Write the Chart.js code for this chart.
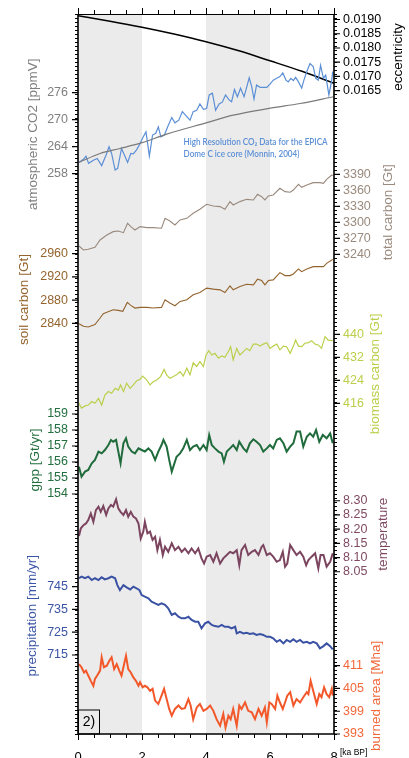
<!DOCTYPE html>
<html>
<head>
<meta charset="utf-8">
<script src="https://cdn.jsdelivr.net/npm/chart.js@4.4.1/dist/chart.umd.min.js"></script>
<style>
	html, body { margin: 0; padding: 0; background: #fff; }
	#wrap { width: 409px; height: 758px; }
</style>
</head>
<body>
<div id="wrap"><canvas id="chart" width="409" height="758"></canvas></div>
<script>
// x axis (ka BP) and shaded periods
const ageTicks = [0, 2, 4, 6, 8];
const shadedSpans = [[0, 2], [4, 6]];

// eccentricity
const eccAge = [0, 1, 2, 3, 4, 5, 6, 7, 8];
const eccVal = [0.01913, 0.01894, 0.01873, 0.01849, 0.01822, 0.01791, 0.01755, 0.01718, 0.01676];
const eccTicks = [0.019, 0.0185, 0.018, 0.0175, 0.017, 0.0165];

// atmospheric CO2, model (grey) and EPICA Dome C data (blue)
const co2ModelAge = [0.03, 0.69, 1.31, 2.0, 2.77, 4.0, 4.85, 5.97, 6.94, 7.98];
const co2ModelVal = [260.5, 262.5, 263.6, 264.9, 266.8, 269.3, 271.0, 272.5, 273.6, 275.1];
const co2DataAge = [0.03, 0.17, 0.25, 0.33, 0.48, 0.6, 0.74, 0.875, 0.97, 1.05, 1.16, 1.24, 1.36, 1.47, 1.55, 1.65, 1.73, 1.83, 1.94, 2.04,
	2.125, 2.23, 2.33, 2.43, 2.51, 2.59, 2.7, 2.8, 2.93, 3.03, 3.15, 3.26, 3.36, 3.5, 3.6, 3.71, 3.81, 3.92, 4.02, 4.1,
	4.2, 4.3, 4.41, 4.51, 4.61, 4.72, 4.8, 4.89, 4.98, 5.08, 5.19, 5.27, 5.35, 5.43, 5.5, 5.58, 5.69, 5.79, 5.9, 6.0,
	6.1, 6.21, 6.31, 6.4, 6.5, 6.57, 6.65, 6.73, 6.8, 6.89, 6.99, 7.06, 7.15, 7.25, 7.35, 7.43, 7.51, 7.58, 7.67, 7.74,
	7.84, 7.93, 7.96];
const co2DataVal = [260.5, 261.2, 261.9, 260.3, 261.0, 261.4, 259.8, 262.1, 264.0, 262.5, 258.8, 259.2, 263.6, 261.8, 260.5, 262.5, 262.4, 263.3, 264.7, 266.2,
	267.3, 261.9, 266.6, 267.0, 268.4, 266.2, 266.6, 268.4, 270.5, 269.3, 269.9, 271.8, 271.0, 269.9, 271.8, 272.1, 273.5, 272.3, 272.5, 275.5,
	275.9, 272.1, 273.5, 273.9, 275.5, 274.4, 274.0, 276.7, 275.1, 277.0, 275.1, 277.2, 279.3, 277.3, 274.6, 277.7, 277.2, 277.2, 277.2, 277.9,
	278.8, 279.2, 279.6, 280.4, 278.8, 278.4, 279.2, 278.7, 279.4, 278.4, 277.0, 278.8, 280.7, 282.5, 281.8, 279.2, 278.8, 282.1, 279.2, 279.9,
	275.5, 278.8, 280.7];
const co2Ticks = [258, 264, 270, 276];

// total carbon
const totalAge = [0.03, 0.17, 0.32, 0.53, 0.69, 0.9, 1.1, 1.26, 1.42, 1.55, 1.65, 1.78, 1.94, 2.15, 2.35, 2.61, 2.72, 2.87, 3.03, 3.19,
	3.4, 3.6, 3.81, 4.02, 4.23, 4.44, 4.59, 4.75, 4.85, 5.06, 5.27, 5.48, 5.61, 5.74, 5.84, 5.95, 6.1, 6.31, 6.47, 6.63,
	6.73, 6.89, 6.99, 7.15, 7.35, 7.56, 7.67, 7.77, 7.93, 7.96];
const totalVal = [3255.6, 3248.1, 3249.4, 3253.1, 3266.9, 3276.3, 3282.5, 3283.8, 3280.6, 3298.1, 3291.9, 3285.6, 3291.9, 3290, 3290, 3288.8, 3307.5, 3302.5, 3295, 3304.4,
	3307.5, 3316.9, 3324.4, 3333.8, 3330.6, 3329.4, 3324.4, 3338.8, 3332.5, 3338.8, 3343.1, 3341.9, 3352.5, 3348.1, 3341.9, 3349.4, 3351.3, 3363.8, 3357.5, 3356.3,
	3360.6, 3371.3, 3365.6, 3370, 3374.4, 3374.4, 3373.1, 3380.6, 3388.8, 3387.5];
const totalTicks = [3240, 3270, 3300, 3330, 3360, 3390];

// soil carbon
const soilAge = [0.03, 0.17, 0.32, 0.53, 0.69, 0.79, 0.9, 1.1, 1.26, 1.4, 1.54, 1.65, 1.78, 1.94, 2.15, 2.35, 2.61, 2.72, 2.87, 3.03,
	3.19, 3.4, 3.6, 3.81, 4.02, 4.23, 4.44, 4.59, 4.75, 4.85, 5.06, 5.27, 5.48, 5.61, 5.74, 5.84, 5.95, 6.1, 6.31, 6.47,
	6.63, 6.73, 6.89, 6.99, 7.15, 7.35, 7.56, 7.67, 7.77, 7.93, 7.96];
const soilVal = [2839.4, 2834.9, 2833.7, 2837.7, 2849.1, 2856.6, 2858.9, 2863.4, 2862.3, 2860.6, 2876, 2870.9, 2866.3, 2867.4, 2867.4, 2866.3, 2867.4, 2880.6, 2874.9, 2870.3,
	2877.7, 2880.6, 2889.1, 2893.1, 2900.6, 2898.9, 2897.7, 2893.1, 2904.6, 2897.7, 2903.4, 2907.4, 2906.3, 2916, 2913.7, 2906.3, 2913.7, 2914.9, 2927.4, 2922.3,
	2922.3, 2925.1, 2933.7, 2929.1, 2933.7, 2937.7, 2937.7, 2937.7, 2943.4, 2949.1, 2950.3];
const soilTicks = [2840, 2880, 2920, 2960];

// biomass carbon
const biomassAge = [0.03, 0.11, 0.22, 0.32, 0.43, 0.53, 0.64, 0.74, 0.84, 0.95, 1.05, 1.16, 1.26, 1.33, 1.42, 1.52, 1.63, 1.73, 1.83, 1.94,
	2.02, 2.15, 2.25, 2.35, 2.46, 2.58, 2.69, 2.77, 2.87, 2.98, 3.08, 3.19, 3.29, 3.4, 3.5, 3.6, 3.71, 3.81, 3.92, 4.0,
	4.09, 4.18, 4.28, 4.39, 4.49, 4.59, 4.7, 4.77, 4.85, 4.96, 5.06, 5.17, 5.27, 5.37, 5.48, 5.58, 5.69, 5.79, 5.9, 6.0,
	6.1, 6.21, 6.31, 6.42, 6.52, 6.63, 6.73, 6.8, 6.89, 6.99, 7.09, 7.2, 7.3, 7.41, 7.51, 7.61, 7.72, 7.82, 7.96];
const biomassVal = [416.0, 414.3, 415.1, 415.4, 416.6, 416.0, 417.7, 415.4, 418.9, 420.1, 419.5, 421.2, 420.6, 422.4, 420.1, 423.0, 421.2, 422.4, 423.8, 424.4,
	425.5, 424.1, 422.4, 423.5, 424.1, 425.3, 427.8, 425.9, 424.7, 425.3, 425.9, 427.0, 425.5, 428.2, 425.9, 430.1, 428.8, 430.5, 428.8, 432.8,
	434.3, 432.8, 433.4, 431.7, 432.5, 432.0, 434.0, 435.7, 431.1, 435.1, 432.8, 434.0, 435.1, 434.3, 436.6, 436.6, 435.9, 436.6, 437.1, 435.1,
	435.9, 436.6, 434.6, 435.9, 435.7, 433.4, 435.9, 438.0, 435.9, 435.7, 436.9, 437.1, 437.8, 436.6, 436.3, 435.1, 439.2, 438.0, 437.8];
const biomassTicks = [416, 424, 432, 440];

// gross primary production
const gppAge = [0.03, 0.11, 0.22, 0.32, 0.43, 0.53, 0.64, 0.74, 0.84, 0.95, 1.03, 1.1, 1.19, 1.26, 1.33, 1.42, 1.5, 1.57, 1.68, 1.78,
	1.89, 1.99, 2.09, 2.2, 2.3, 2.41, 2.51, 2.61, 2.67, 2.77, 2.85, 2.93, 2.98, 3.08, 3.19, 3.29, 3.4, 3.5, 3.6, 3.71,
	3.81, 3.92, 4.02, 4.1, 4.18, 4.28, 4.39, 4.49, 4.56, 4.65, 4.75, 4.85, 4.96, 5.04, 5.17, 5.27, 5.37, 5.48, 5.58, 5.69,
	5.79, 5.9, 6.0, 6.1, 6.21, 6.31, 6.42, 6.52, 6.63, 6.73, 6.83, 6.94, 7.04, 7.15, 7.25, 7.35, 7.44, 7.54, 7.65, 7.77,
	7.88, 7.96];
const gppVal = [155.71, 155.08, 155.4, 155.5, 155.92, 156.13, 156.65, 156.54, 156.75, 157.06, 157.38, 157.27, 157.38, 156.65, 155.92, 157.17, 157.48, 156.96, 156.65, 156.54,
	156.85, 156.75, 156.65, 156.85, 156.65, 156.13, 156.65, 157.06, 157.38, 156.96, 156.13, 155.4, 155.71, 156.33, 156.54, 156.85, 157.38, 156.75, 156.96, 157.06,
	156.75, 157.06, 156.75, 157.69, 157.06, 156.85, 156.65, 156.54, 156.02, 156.65, 156.85, 157.06, 156.75, 157.27, 156.85, 156.65, 157.17, 157.42, 157.27, 157.06,
	156.65, 156.85, 157.06, 156.85, 157.38, 157.48, 157.17, 156.65, 156.96, 157.17, 157.9, 157.9, 156.96, 157.58, 157.79, 157.58, 158.0, 157.27, 157.69, 157.48,
	157.79, 157.17];
const gppTicks = [154, 155, 156, 157, 158, 159];

// temperature
const tempAge = [0.03, 0.09, 0.17, 0.25, 0.32, 0.4, 0.48, 0.56, 0.64, 0.71, 0.79, 0.88, 0.95, 1.03, 1.1, 1.19, 1.26, 1.33, 1.42, 1.5,
	1.57, 1.65, 1.73, 1.81, 1.89, 1.96, 2.04, 2.09, 2.17, 2.25, 2.33, 2.41, 2.48, 2.56, 2.65, 2.72, 2.82, 2.93, 3.03, 3.14,
	3.24, 3.34, 3.45, 3.55, 3.66, 3.76, 3.86, 3.94, 4.02, 4.13, 4.23, 4.33, 4.44, 4.54, 4.65, 4.75, 4.85, 4.96, 5.04, 5.11,
	5.22, 5.32, 5.43, 5.53, 5.64, 5.74, 5.79, 5.9, 6.0, 6.1, 6.21, 6.31, 6.4, 6.47, 6.54, 6.63, 6.73, 6.83, 6.94, 7.04,
	7.13, 7.2, 7.3, 7.41, 7.51, 7.58, 7.67, 7.77, 7.88, 7.96];
const tempVal = [8.176, 8.203, 8.214, 8.22, 8.232, 8.255, 8.226, 8.267, 8.279, 8.261, 8.281, 8.25, 8.273, 8.285, 8.279, 8.305, 8.273, 8.261, 8.25, 8.267,
	8.244, 8.261, 8.244, 8.238, 8.22, 8.167, 8.191, 8.226, 8.185, 8.191, 8.162, 8.173, 8.126, 8.162, 8.109, 8.138, 8.12, 8.15, 8.126, 8.138,
	8.12, 8.132, 8.115, 8.132, 8.115, 8.132, 8.097, 8.079, 8.103, 8.109, 8.085, 8.115, 8.079, 8.097, 8.109, 8.12, 8.115, 8.126, 8.073, 8.126,
	8.144, 8.109, 8.12, 8.126, 8.109, 8.138, 8.144, 8.109, 8.115, 8.103, 8.085, 8.091, 8.12, 8.068, 8.079, 8.144, 8.126, 8.109, 8.12, 8.103,
	8.073, 8.091, 8.103, 8.115, 8.062, 8.109, 8.109, 8.068, 8.085, 8.115];
const tempTicks = [8.05, 8.1, 8.15, 8.2, 8.25, 8.3];

// precipitation
const precipAge = [0.03, 0.11, 0.22, 0.32, 0.43, 0.53, 0.64, 0.74, 0.84, 0.95, 1.05, 1.16, 1.23, 1.31, 1.42, 1.52, 1.63, 1.73, 1.83, 1.92,
	1.99, 2.09, 2.2, 2.3, 2.41, 2.51, 2.61, 2.72, 2.82, 2.93, 3.03, 3.14, 3.24, 3.34, 3.45, 3.55, 3.66, 3.76, 3.86, 3.97,
	4.07, 4.18, 4.28, 4.39, 4.49, 4.59, 4.7, 4.8, 4.91, 4.96, 5.06, 5.17, 5.27, 5.37, 5.48, 5.58, 5.69, 5.79, 5.9, 6.0,
	6.1, 6.21, 6.31, 6.42, 6.52, 6.63, 6.73, 6.83, 6.94, 7.04, 7.15, 7.25, 7.35, 7.46, 7.56, 7.67, 7.77, 7.88, 7.96];
const precipVal = [748.7, 749.4, 748.7, 749.4, 747.9, 748.7, 747.9, 749.1, 748.2, 748.7, 749.4, 748.7, 745.7, 743.5, 745.7, 744.7, 743.8, 745.0, 744.3, 743.5,
	741.3, 740.6, 739.9, 738.4, 737.7, 737.0, 737.7, 737.0, 735.5, 732.6, 733.3, 731.8, 731.1, 731.1, 731.8, 730.4, 729.6, 729.6, 726.7, 728.9,
	729.6, 728.2, 727.7, 727.4, 728.2, 727.4, 727.4, 726.7, 727.4, 724.5, 725.2, 724.5, 724.8, 724.2, 724.5, 723.8, 724.2, 723.8, 723.0, 723.0,
	722.3, 720.8, 721.6, 720.1, 721.6, 720.8, 721.9, 720.8, 721.6, 720.4, 720.8, 720.1, 720.8, 720.1, 717.9, 718.9, 720.1, 718.9, 717.5];
const precipTicks = [715, 725, 735, 745];

// burned area
const burnedAge = [0.03, 0.11, 0.19, 0.25, 0.32, 0.4, 0.48, 0.53, 0.6, 0.69, 0.74, 0.81, 0.9, 0.98, 1.05, 1.13, 1.21, 1.29, 1.36, 1.44,
	1.5, 1.57, 1.65, 1.73, 1.81, 1.89, 1.94, 2.02, 2.09, 2.17, 2.25, 2.33, 2.41, 2.51, 2.61, 2.69, 2.77, 2.85, 2.93, 3.03,
	3.14, 3.24, 3.34, 3.45, 3.52, 3.6, 3.71, 3.81, 3.92, 4.02, 4.13, 4.23, 4.33, 4.44, 4.54, 4.61, 4.7, 4.77, 4.85, 4.96,
	5.04, 5.11, 5.22, 5.32, 5.43, 5.53, 5.64, 5.74, 5.84, 5.9, 5.98, 6.05, 6.16, 6.23, 6.31, 6.4, 6.47, 6.54, 6.63, 6.73,
	6.83, 6.94, 7.04, 7.15, 7.2, 7.27, 7.35, 7.46, 7.54, 7.61, 7.69, 7.77, 7.85, 7.93, 7.96];
const burnedVal = [411.4, 410.6, 409.2, 409.7, 408.4, 407.0, 405.7, 407.5, 408.4, 409.7, 413.2, 410.6, 411.0, 412.3, 413.2, 410.1, 411.4, 409.7, 408.4, 411.4,
	413.6, 410.1, 409.2, 407.9, 407.0, 405.7, 406.6, 405.3, 405.7, 405.3, 404.4, 404.9, 401.8, 400.9, 403.1, 404.9, 402.2, 399.6, 397.8, 399.6,
	400.5, 399.6, 399.8, 402.2, 400.5, 396.9, 400.0, 400.9, 399.1, 399.6, 400.5, 399.1, 396.9, 395.2, 398.3, 394.7, 397.8, 396.9, 399.6, 395.2,
	400.5, 399.6, 401.3, 399.1, 398.7, 396.9, 399.6, 397.8, 400.0, 396.1, 401.3, 400.9, 399.6, 403.1, 401.3, 399.6, 401.3, 403.1, 404.0, 400.5,
	402.2, 401.3, 402.7, 404.0, 403.5, 407.0, 404.4, 400.9, 403.5, 402.7, 405.3, 403.5, 402.7, 404.9, 403.1];
const burnedTicks = [393, 399, 405, 411];

const zip = (xs, ys) => xs.map((x, i) => ({ x: x, y: ys[i] }));

// every series gets its own hidden y scale, stacked into its own band
const axisDefs = [
	{ id: 'yEcc', min: -0.006087, max: 0.019193, side: 'right', ticks: eccTicks, digits: 4, color: '#000000', title: 'eccentricity', gap: 17, dy: 2 },
	{ id: 'yCo2', min: 133.49, max: 293.49, side: 'left', ticks: co2Ticks, digits: 0, color: '#7f7f7f', title: 'atmospheric CO2 [ppmV]', gap: 14, dy: 1 },
	{ id: 'yTot', min: 2340.6, max: 3690.6, side: 'right', ticks: totalTicks, digits: 0, color: '#9a8a7e', title: 'total carbon [Gt]', gap: 17, dy: -2 },
	{ id: 'ySoil', min: 2131.9, max: 3373.3, side: 'left', ticks: soilTicks, digits: 0, color: '#94642e', title: 'soil carbon [Gt]', gap: 16, dy: 11 },
	{ id: 'yBio', min: 301.0, max: 551.4, side: 'right', ticks: biomassTicks, digits: 0, color: '#bccf4a', title: 'biomass carbon [Gt]', gap: 11, dy: 5 },
	{ id: 'yGpp', min: 139, max: 184, side: 'left', ticks: gppTicks, digits: 0, color: '#236f3f', title: 'gpp [Gt/yr]', gap: 12, dy: 6 },
	{ id: 'yTemp', min: 7.4787, max: 10.0137, side: 'right', ticks: tempTicks, digits: 2, color: '#7f4a61', title: 'temperature', gap: 16, dy: -2 },
	{ id: 'yPrec', min: 680.3, max: 996.5, side: 'left', ticks: precipTicks, digits: 0, color: '#3b55a6', title: 'precipitation [mm/yr]', gap: 15, dy: -5 },
	{ id: 'yBurn', min: 393, max: 582.7, side: 'right', ticks: burnedTicks, digits: 0, color: '#f2673a', title: 'burned area [Mha]', gap: 12, dy: -4 }
];

const scales = {
	x: { type: 'linear', min: 0, max: 8, display: false }
};
axisDefs.forEach((d) => {
	scales[d.id] = { type: 'linear', min: d.min, max: d.max, display: false };
});

const line = (data, axis, color, width, smooth) => ({
	data: data,
	yAxisID: axis,
	borderColor: color,
	borderWidth: width,
	pointRadius: 0,
	fill: false,
	cubicInterpolationMode: smooth ? 'monotone' : 'default',
	tension: smooth ? 0.4 : 0
});

const datasets = [
	line(zip(co2ModelAge, co2ModelVal), 'yCo2', '#7a7a7a', 1.2, true),
	line(zip(co2DataAge, co2DataVal), 'yCo2', '#5b8fd6', 1.2),
	line(zip(eccAge, eccVal), 'yEcc', '#000000', 1.5, true),
	line(zip(totalAge, totalVal), 'yTot', '#9a8a7e', 1.1),
	line(zip(soilAge, soilVal), 'ySoil', '#94642e', 1.1),
	line(zip(biomassAge, biomassVal), 'yBio', '#bccf4a', 1.2),
	line(zip(gppAge, gppVal), 'yGpp', '#1f6b3b', 2),
	line(zip(tempAge, tempVal), 'yTemp', '#7b4560', 2),
	line(zip(precipAge, precipVal), 'yPrec', '#3a52a4', 2),
	line(zip(burnedAge, burnedVal), 'yBurn', '#f2582a', 2)
];

const labelFont = '12.5px "Liberation Sans", Arial, sans-serif';
const titleFont = '13.5px "Liberation Sans", Arial, sans-serif';

const decor = {
	id: 'decor',
	beforeDatasetsDraw(chart) {
		const { ctx, chartArea: a, scales: { x } } = chart;
		ctx.save();
		ctx.fillStyle = '#ebebeb';
		shadedSpans.forEach(([s, e]) => {
			const x0 = x.getPixelForValue(s);
			const x1 = x.getPixelForValue(e);
			ctx.fillRect(x0, a.top, x1 - x0, a.bottom - a.top);
		});
		ctx.restore();
	},
	afterDatasetsDraw(chart) {
		const { ctx, chartArea: a, scales: sc } = chart;
		const x = sc.x;
		ctx.save();

		// frame
		ctx.strokeStyle = '#000';
		ctx.lineWidth = 1;
		ctx.beginPath();
		ctx.moveTo(a.left, a.top + 0.5);
		ctx.lineTo(a.right, a.top + 0.5);
		ctx.stroke();
		ctx.lineWidth = 1.6;
		ctx.beginPath();
		ctx.moveTo(a.left, a.top);
		ctx.lineTo(a.left, a.bottom);
		ctx.moveTo(a.right, a.top);
		ctx.lineTo(a.right, a.bottom);
		ctx.moveTo(a.left, a.bottom);
		ctx.lineTo(a.right, a.bottom);
		ctx.stroke();

		// minor ticks on both sides
		ctx.lineWidth = 1;
		ctx.beginPath();
		const n = 180;
		for (let i = 0; i <= n; i++) {
			const y = Math.round(a.top + ((a.bottom - a.top) * i) / n) + 0.5;
			ctx.moveTo(a.left - 3, y);
			ctx.lineTo(a.left, y);
			ctx.moveTo(a.right, y);
			ctx.lineTo(a.right + 3, y);
		}
		// x ticks top and bottom every 0.5 ka
		for (let v = 0; v <= 8; v += 0.5) {
			const px = Math.round(x.getPixelForValue(v)) + 0.5;
			const len = v % 2 === 0 ? 6 : 4;
			ctx.moveTo(px, a.top - len);
			ctx.lineTo(px, a.top);
			ctx.moveTo(px, a.bottom);
			ctx.lineTo(px, a.bottom + len);
		}
		ctx.stroke();

		// series labels, major ticks and titles
		axisDefs.forEach((d) => {
			const s = sc[d.id];
			const left = d.side === 'left';
			const labelX = left ? a.left - 10 : a.right + 9;
			ctx.font = labelFont;
			ctx.fillStyle = d.color;
			ctx.textAlign = left ? 'right' : 'left';
			ctx.textBaseline = 'middle';
			let maxW = 0;
			ctx.strokeStyle = '#000';
			ctx.lineWidth = 1.2;
			ctx.beginPath();
			d.ticks.forEach((v) => {
				const y = s.getPixelForValue(v);
				const txt = v.toFixed(d.digits);
				ctx.fillText(txt, labelX, y);
				maxW = Math.max(maxW, ctx.measureText(txt).width);
				if (left) {
					ctx.moveTo(a.left - 6, y);
					ctx.lineTo(a.left, y);
				} else {
					ctx.moveTo(a.right, y);
					ctx.lineTo(a.right + 6, y);
				}
			});
			ctx.stroke();

			const yTop = s.getPixelForValue(d.ticks[d.ticks.length - 1]);
			const yBot = s.getPixelForValue(d.ticks[0]);
			const ty = (yTop + yBot) / 2 + d.dy;
			const tx = left ? labelX - maxW - d.gap : labelX + maxW + d.gap;
			ctx.save();
			ctx.translate(tx, ty);
			ctx.rotate(-Math.PI / 2);
			ctx.font = titleFont;
			ctx.textAlign = 'center';
			ctx.textBaseline = 'middle';
			ctx.fillStyle = d.color;
			ctx.fillText(d.title, 0, 0);
			ctx.restore();
		});

		// x tick labels
		ctx.font = '13px "Liberation Sans", Arial, sans-serif';
		ctx.fillStyle = '#000';
		ctx.textAlign = 'center';
		ctx.textBaseline = 'top';
		ageTicks.forEach((v) => {
			ctx.fillText(String(v), x.getPixelForValue(v), a.bottom + 17);
		});
		ctx.font = '8.5px "Liberation Sans", Arial, sans-serif';
		ctx.textAlign = 'left';
		ctx.textBaseline = 'middle';
		ctx.fillText('[ka BP]', x.getPixelForValue(8) + 6, a.bottom + 19);

		// data source note
		const noteX = x.getPixelForValue(3.3);
		const noteY = sc.yCo2.getPixelForValue(265);
		ctx.fillStyle = '#5b8fd6';
		ctx.font = '600 9px Lato, "Open Sans", sans-serif';
		ctx.textAlign = 'left';
		ctx.textBaseline = 'middle';
		const notes = ['High Resolution CO\u2082 Data for the EPICA', 'Dome C ice core (Monnin, 2004)'];
		const w0 = ctx.measureText(notes[0]).width;
		const k = Math.min(1, 144 / w0);
		notes.forEach((t, i) => {
			ctx.save();
			ctx.translate(noteX, noteY + i * 12);
			ctx.scale(k, 1);
			ctx.fillText(t, 0, 0);
			ctx.restore();
		});

		// panel tag
		ctx.strokeStyle = '#000';
		ctx.lineWidth = 1;
		ctx.strokeRect(a.left + 0.5, a.bottom - 24, 21, 24);
		ctx.fillStyle = '#000';
		ctx.font = '14px "Liberation Sans", Arial, sans-serif';
		ctx.textAlign = 'center';
		ctx.textBaseline = 'middle';
		ctx.fillText('2)', a.left + 11, a.bottom - 12);

		ctx.restore();
	}
};

new Chart(document.getElementById('chart'), {
	type: 'line',
	data: { datasets: datasets },
	options: {
		responsive: false,
		animation: false,
		devicePixelRatio: 1,
		parsing: true,
		layout: { padding: { left: 78, right: 75, top: 14, bottom: 24 } },
		scales: scales,
		plugins: {
			legend: { display: false },
			tooltip: { enabled: false }
		}
	},
	plugins: [decor]
});
</script>
</body>
</html>
